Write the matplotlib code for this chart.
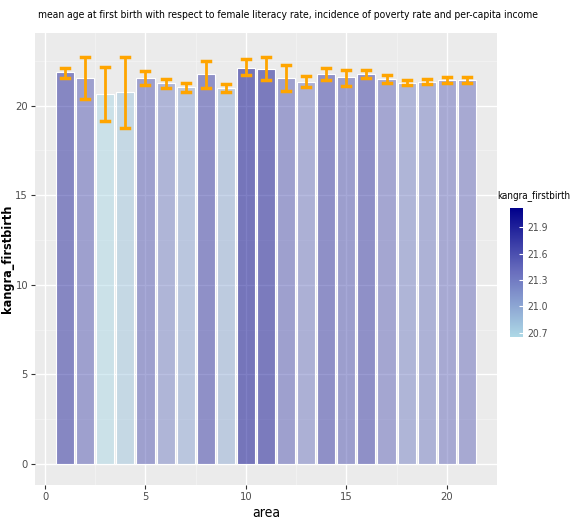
import numpy as np
import matplotlib
matplotlib.use("Agg")
import matplotlib.pyplot as plt
from matplotlib import font_manager as fm
from matplotlib.colors import LinearSegmentedColormap, Normalize
from matplotlib.cm import ScalarMappable

plt.rcParams['font.family'] = ['DejaVu Sans']
plt.rcParams['font.stretch'] = 'condensed'
fpath = fm.findfont(fm.FontProperties(family='DejaVu Sans', stretch='condensed'))
condensed = 'ondensed' in fpath
k = 1.0 if condensed else 0.85

area = np.arange(1, 22)
firstbirth = [21.88, 21.55, 20.65, 20.78, 21.55, 21.27, 21.02, 21.76, 20.96, 22.12, 22.03,
              21.55, 21.33, 21.76, 21.57, 21.76, 21.46, 21.27, 21.31, 21.42, 21.42]
err_low = [21.55, 20.35, 19.15, 18.74, 21.15, 21.00, 20.78, 20.96, 20.74, 21.70, 21.42,
           20.83, 21.05, 21.40, 21.10, 21.52, 21.24, 21.15, 21.22, 21.27, 21.27]
err_high = [22.10, 22.73, 22.16, 22.73, 21.94, 21.48, 21.25, 22.48, 21.18, 22.58, 22.71,
            22.25, 21.65, 22.12, 21.98, 21.98, 21.70, 21.42, 21.46, 21.60, 21.60]
cbar_ticks = [20.7, 21.0, 21.3, 21.6, 21.9]

bg = '#EBEBEB'
cmap = LinearSegmentedColormap.from_list('kb', [(0, '#ADD8E6'), (0.5, '#6A6FBE'), (1, '#00008B')])
norm = Normalize(vmin=min(firstbirth), vmax=max(firstbirth))

fig = plt.figure(figsize=(5.72, 5.25), dpi=100)
ax = fig.add_axes([35/572, 1-485/525, (497-35)/572, (485-33)/525])
ax.set_facecolor(bg)

# grid like ggplot
for v in [2.5, 7.5, 12.5, 17.5, 22.5]:
    ax.axhline(v, color='#F5F5F5', lw=0.5, zorder=0)
    ax.axvline(v, color='#F5F5F5', lw=0.5, zorder=0)
for v in [0, 5, 10, 15, 20]:
    ax.axhline(v, color='white', lw=1.0, zorder=0)
    ax.axvline(v, color='white', lw=1.0, zorder=0)

colors = cmap(norm(np.array(firstbirth)))
colors[:, 3] = 0.5
ax.bar(area, firstbirth, width=0.9, color=colors, edgecolor='white', linewidth=0.8, zorder=2)

for x, lo, hi in zip(area, err_low, err_high):
    ax.plot([x, x], [lo, hi], color='#FFA500', lw=2, zorder=3, solid_capstyle='butt')
    ax.plot([x-0.2, x+0.2], [lo, lo], color='#FFA500', lw=2.5, zorder=3)
    ax.plot([x-0.2, x+0.2], [hi, hi], color='#FFA500', lw=2.5, zorder=3)

ax.set_xlim(-0.5, 22.5)
ax.set_ylim(-1.17, 24.05)
ax.set_xticks([0, 5, 10, 15, 20])
ax.set_yticks([0, 5, 10, 15, 20])
for s in ax.spines.values():
    s.set_visible(False)
ax.tick_params(colors='#333333', labelcolor='#4D4D4D', labelsize=8*k, length=3, width=0.8, pad=2)
ax.set_xlabel('area', fontsize=10*k, color='black', labelpad=3)
ax.set_ylabel('kangra_firstbirth', fontsize=9*k, fontweight='bold', color='black')
ax.yaxis.set_label_coords(-21/462, 0.5)

fig.text(38/572, 1-15/525, 'mean age at first birth with respect to female literacy rate, incidence of poverty rate and per-capita income',
         fontsize=7.35*k, va='center', ha='left')

cax = fig.add_axes([510/572, 1-337/525, 13/572, 129/525])
cb = fig.colorbar(ScalarMappable(norm=norm, cmap=cmap), cax=cax, ticks=cbar_ticks)
cb.outline.set_visible(False)
cax.tick_params(length=3, width=0.8, color='white', direction='in', labelsize=7.5*k, labelcolor='#4D4D4D')
cb.ax.set_yticklabels(['20.7', '21.0', '21.3', '21.6', '21.9'])
fig.text(497/572, 1-196/525, 'kangra_firstbirth', fontsize=7*k, va='center', ha='left')

fig.savefig('out.png', dpi=100)
